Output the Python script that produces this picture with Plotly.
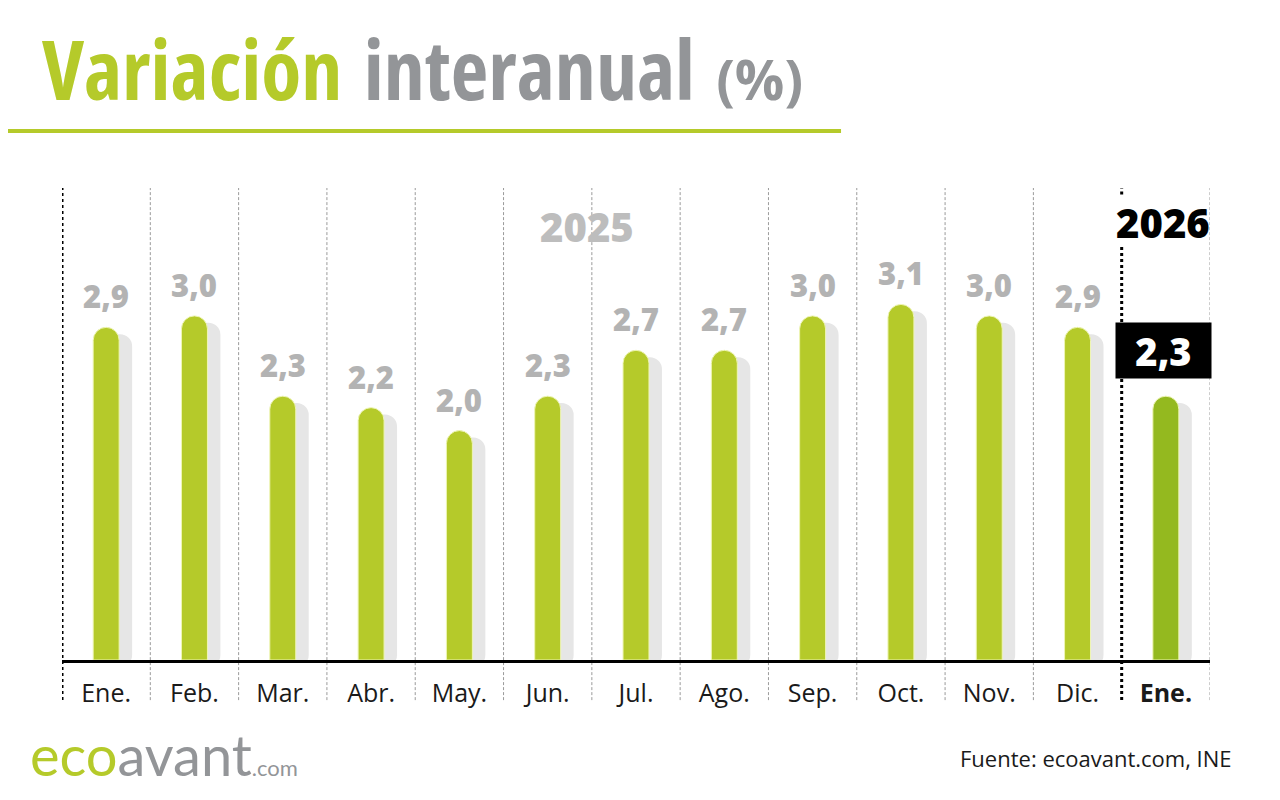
import plotly.graph_objects as go

# ---- data ----
months = ["Ene.", "Feb.", "Mar.", "Abr.", "May.", "Jun.", "Jul.", "Ago.", "Sep.", "Oct.", "Nov.", "Dic.", "Ene."]
years = ["2025"] * 12 + ["2026"]
values = [2.9, 3.0, 2.3, 2.2, 2.0, 2.3, 2.7, 2.7, 3.0, 3.1, 3.0, 2.9, 2.3]

GREEN = "#b5ca2a"
GREEN_DARK = "#94b91f"
GRAY_TITLE = "#939598"
GRAY_LABEL = "#b3b3b3"
SHADOW = "#e6e6e6"
FONT = "Open Sans"

xs = list(range(len(values)))
bar_colors = [GREEN if y == "2025" else GREEN_DARK for y in years]
ticktext = [m if y == "2025" else f"<b>{m}</b>" for m, y in zip(months, years)]

fig = go.Figure()

# shadow bars
fig.add_trace(go.Bar(
    x=xs, y=values, base=[-0.06] * len(values),
    width=0.294, offset=0.0,
    marker=dict(color=SHADOW, cornerradius=13, line=dict(width=0)),
    hoverinfo="skip",
))
# main bars
fig.add_trace(go.Bar(
    x=xs, y=values,
    width=0.294, offset=-0.147,
    marker=dict(color=bar_colors, cornerradius=13, line=dict(color="#eef5b5", width=1)),
))

# value labels
for x, v, y in zip(xs, values, years):
    txt = f"{v:.1f}".replace(".", ",")
    if y == "2025":
        fig.add_annotation(x=x, y=v, text=txt, showarrow=False, yanchor="middle", yshift=31,
                           font=dict(family=FONT, size=31, color=GRAY_LABEL, weight=800))
    else:
        fig.add_annotation(x=x, y=v, text=txt, showarrow=False, yanchor="middle", yshift=46,
                           xshift=-2, bgcolor="black", width=93, height=53, borderpad=1,
                           font=dict(family=FONT, size=38, color="white", weight=800))

# year labels
fig.add_annotation(x=5.45, xref="x", y=0.919, yref="paper", yanchor="middle", text="2025", showarrow=False,
                   font=dict(family=FONT, size=40, color="#bdbdbd", weight=800))
fig.add_annotation(x=11.97, xref="x", y=0.926, yref="paper", yanchor="middle", text="2026", showarrow=False,
                   font=dict(family=FONT, size=40, color="black", weight=800))

# vertical separators
shapes = []
bottom = -0.085
for i in range(len(values) + 1):
    xb = i - 0.5
    if i == 0:
        shapes.append(dict(type="line", xref="x", yref="paper", x0=xb, x1=xb, y0=bottom, y1=1.0,
                           line=dict(color="black", width=3, dash="dot"), layer="below"))
    elif i == 12:
        shapes.append(dict(type="line", xref="x", yref="paper", x0=xb, x1=xb, y0=bottom, y1=0.876,
                           line=dict(color="black", width=3, dash="dot"), layer="below"))
        shapes.append(dict(type="line", xref="x", yref="paper", x0=xb, x1=xb, y0=0.986, y1=1.0,
                           line=dict(color="black", width=3, dash="dot"), layer="below"))
    else:
        shapes.append(dict(type="line", xref="x", yref="paper", x0=xb, x1=xb, y0=bottom, y1=1.0,
                           line=dict(color="#9a9a9a", width=1, dash="3px,2px"), layer="below"))

# title underline
shapes.append(dict(type="line", xref="paper", yref="paper", x0=-0.054, x1=0.6786, y0=1.1208, y1=1.1208,
                   line=dict(color=GREEN, width=4)))
fig.update_layout(shapes=shapes)

# title
st = "font-stretch:70%;"
title = (f'<span style="{st}color:{GREEN}">Variación</span>'
         f'<span style="color:{GRAY_TITLE}"> </span>'
         f'<span style="{st}color:{GRAY_TITLE}">interanual</span>'
         f'<span style="color:{GRAY_TITLE}"> </span>'
         f'<span style="color:{GRAY_TITLE};font-size:55px">(%)</span>')
fig.add_annotation(xref="paper", yref="paper", x=-0.019, y=1.254, xanchor="left", yanchor="middle",
                   text=title, showarrow=False,
                   font=dict(family="Open Sans", size=82, weight=700))

# logo
logo = (f'<span style="color:{GREEN}">eco</span><span style="color:{GRAY_TITLE}">avant</span>'
        f'<span style="color:{GRAY_TITLE};font-size:22px">.com</span>')
fig.add_annotation(xref="paper", yref="paper", x=-0.03, y=-0.2, xanchor="left", yanchor="middle",
                   text=logo, showarrow=False, font=dict(family="Lato", size=56, weight=400))

# source
fig.add_annotation(xref="paper", yref="paper", x=1.0209, y=-0.2076, xanchor="right", yanchor="middle",
                   text="Fuente: ecoavant.com, INE", showarrow=False,
                   font=dict(family=FONT, size=22, color="#1a1a1a"))

fig.update_layout(
    width=1280, height=800,
    margin=dict(l=54, r=78, t=180, b=148),
    paper_bgcolor="white", plot_bgcolor="white",
    showlegend=False, barmode="overlay",
    xaxis=dict(range=[-0.5, 12.5], tickvals=xs, ticktext=ticktext, showgrid=False, zeroline=False,
               showline=True, linecolor="black", linewidth=3, ticks="", ticklabelstandoff=9,
               tickfont=dict(family=FONT, size=25, color="#1a1a1a"), fixedrange=True),
    yaxis=dict(range=[0, 4.115], visible=False, fixedrange=True),
)

fig.write_html("out.html")
